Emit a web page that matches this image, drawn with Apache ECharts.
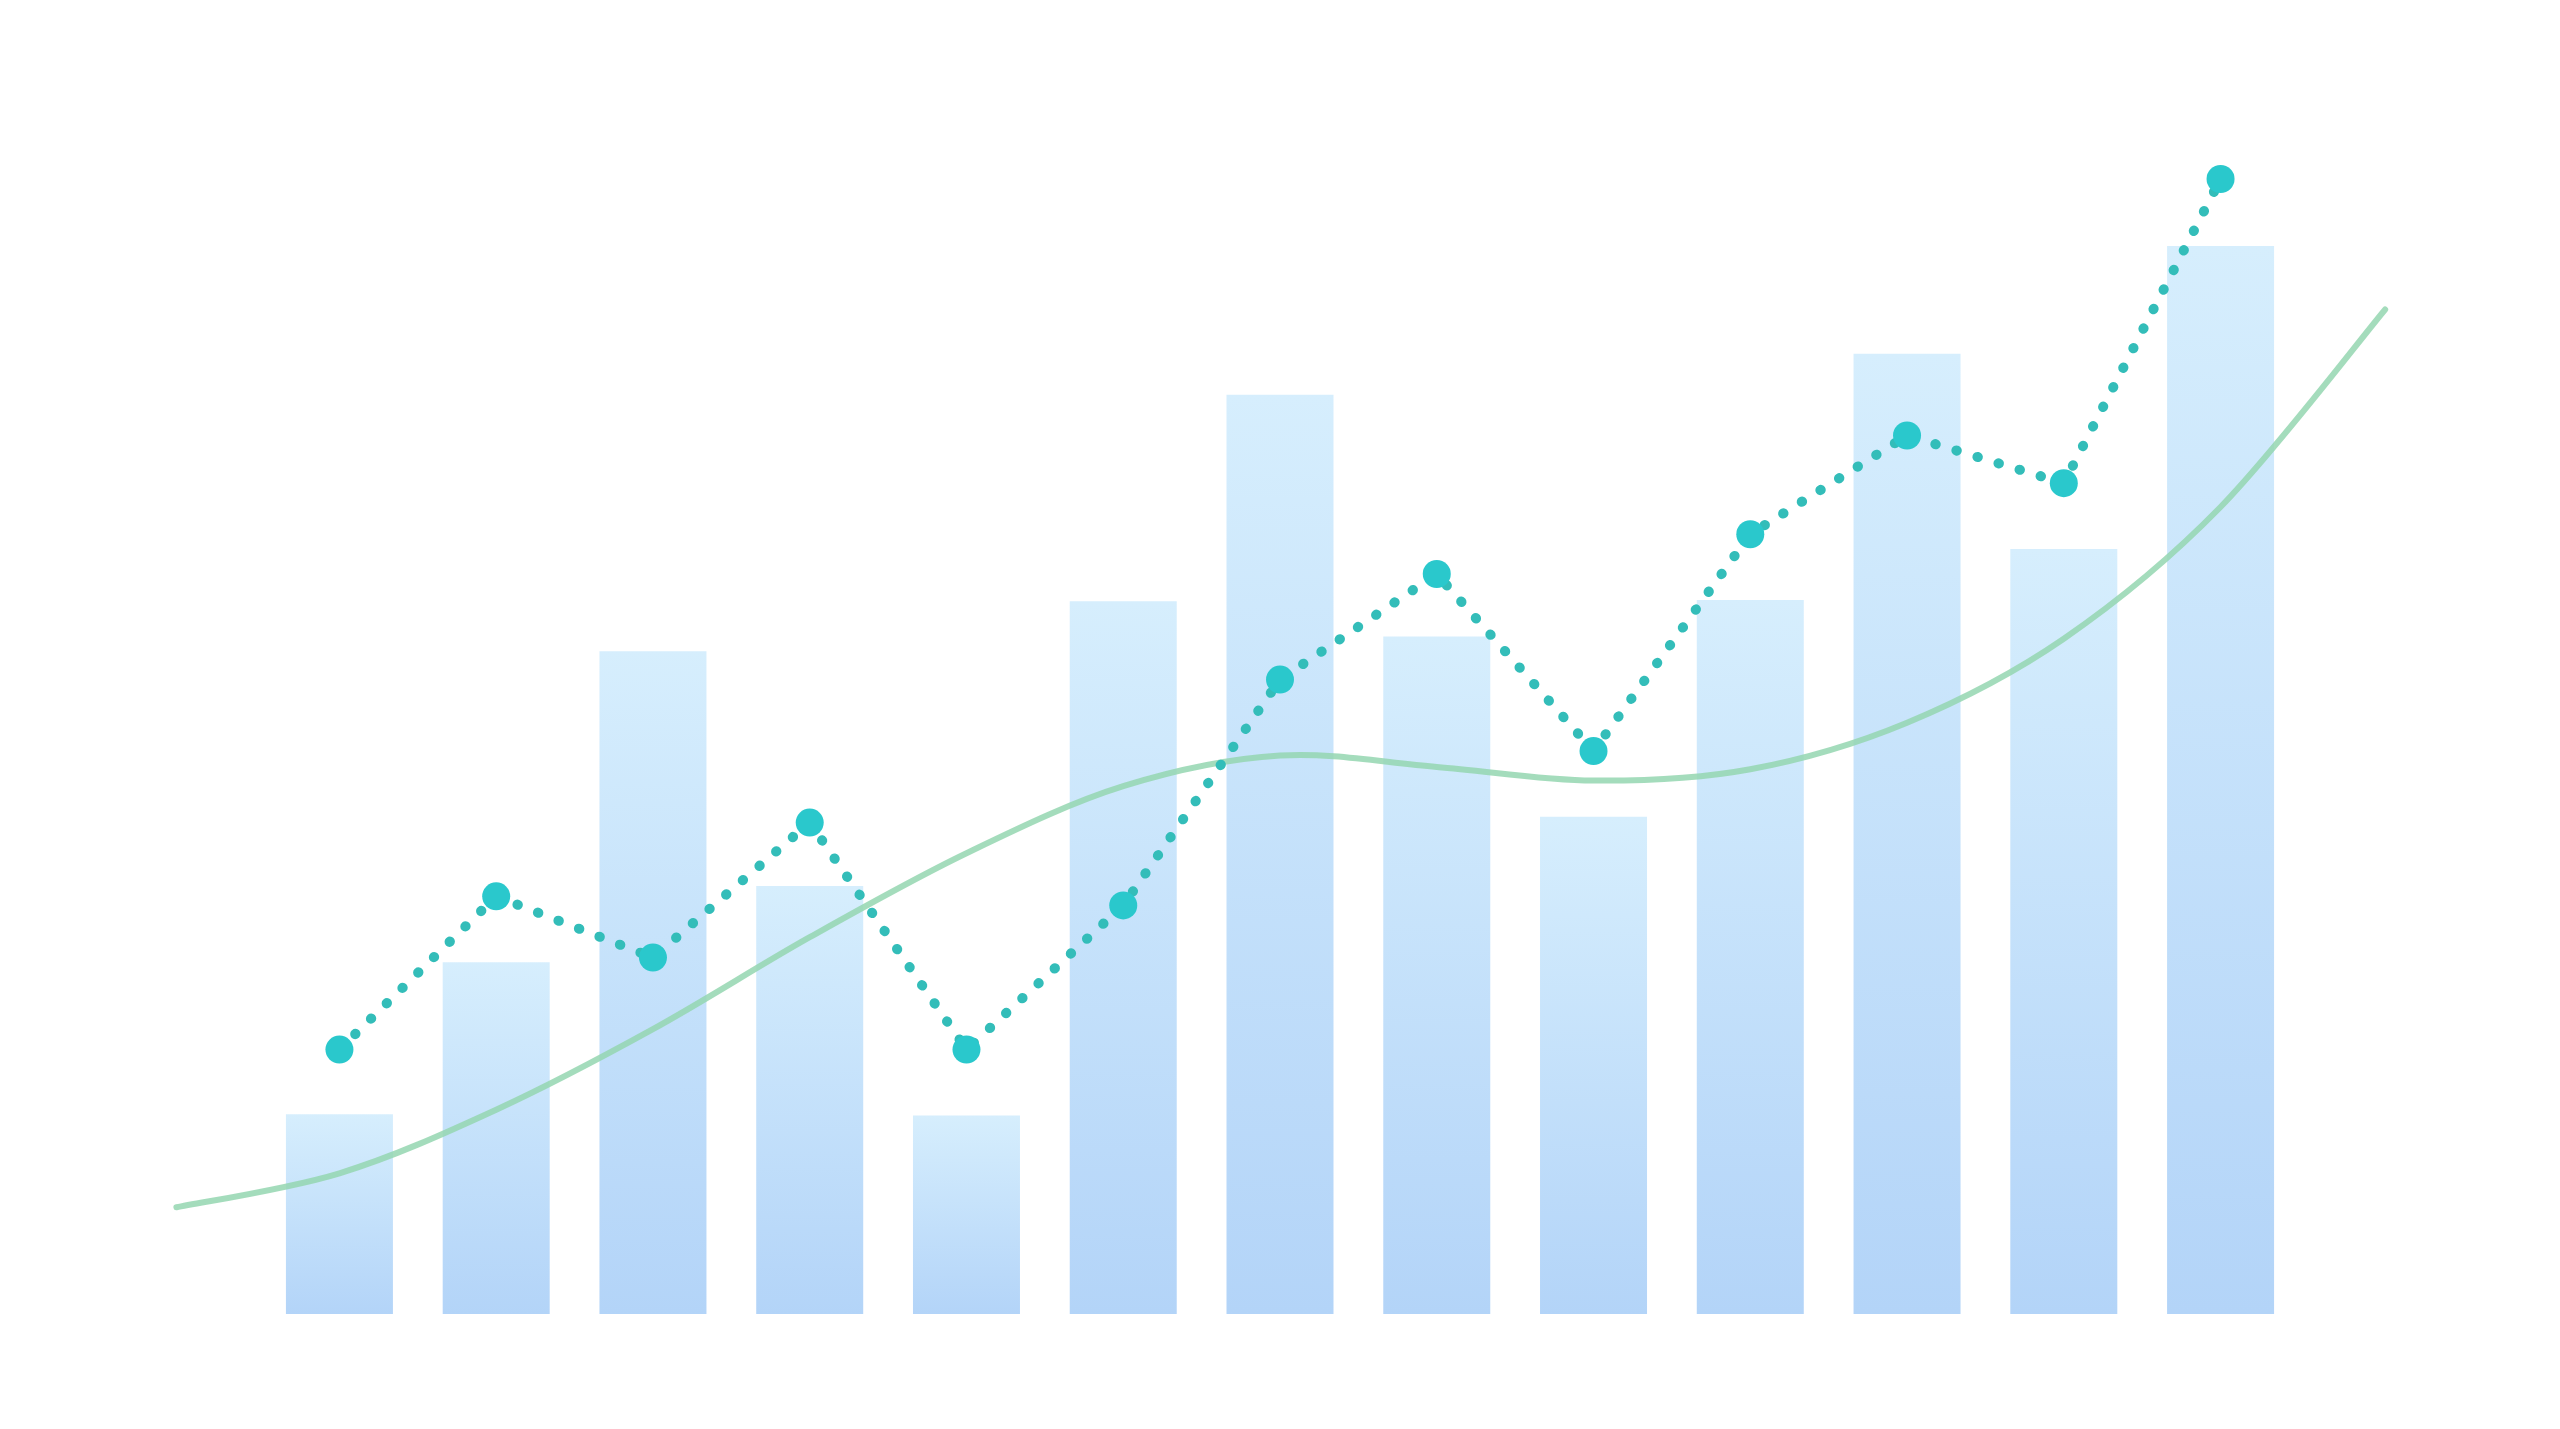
<!DOCTYPE html>
<html>
<head>
<meta charset="utf-8">
<script src="https://cdn.jsdelivr.net/npm/echarts@6/dist/echarts.min.js"></script>
<style>
html,body{margin:0;padding:0;background:#ffffff;}
#chart{width:2560px;height:1429px;}
</style>
</head>
<body>
<div id="chart"></div>
<script>
// ---- data ----
const categories = ['1','2','3','4','5','6','7','8','9','10','11','12','13'];
const barValues  = [17.6, 31.0, 58.4, 37.7, 17.5, 62.8, 81.0, 59.7, 43.8, 62.9, 84.6, 67.4, 94.1];
const lineValues = [23.3, 36.8, 31.4, 43.3, 23.3, 36.0, 55.9, 65.2, 49.6, 68.7, 77.4, 73.2, 100.0];
// trend curve: x positions in category-index units (0 = first bar), y values
const trendX = [-1.04, 0, 1, 2, 3, 4, 5, 6, 7, 8, 9, 10, 11, 12, 13.05];
const trendY = [9.4, 12.4, 18.0, 25.1, 33.2, 40.6, 46.5, 49.2, 48.2, 47.0, 48.0, 52.1, 59.5, 71.1, 88.5];

const chart = echarts.init(document.getElementById('chart'), null, {renderer: 'canvas'});
const barData = categories.map((c, i) => ({name: c, value: [i, barValues[i]]}));
const lineData = categories.map((c, i) => ({name: c, value: [i, lineValues[i]]}));
const trendData = trendX.map((x, i) => [x, trendY[i]]);

// smooth curve through the trend points (Catmull-Rom -> cubic Bezier), positioned by the axes
function renderTrend(params, api) {
  if (params.dataIndex !== 0) return null;
  const p = trendData.map(d => api.coord(d));
  const n = p.length;
  let d = 'M' + p[0][0] + ',' + p[0][1];
  for (let i = 0; i < n - 1; i++) {
    const p0 = p[Math.max(i - 1, 0)], p1 = p[i], p2 = p[i + 1], p3 = p[Math.min(i + 2, n - 1)];
    const c1x = p1[0] + (p2[0] - p0[0]) / 6, c1y = p1[1] + (p2[1] - p0[1]) / 6;
    const c2x = p2[0] - (p3[0] - p1[0]) / 6, c2y = p2[1] - (p3[1] - p1[1]) / 6;
    d += ' C' + c1x + ',' + c1y + ' ' + c2x + ',' + c2y + ' ' + p2[0] + ',' + p2[1];
  }
  return {
    type: 'path',
    shape: {pathData: d},
    style: {fill: 'none', stroke: 'rgba(148,214,176,0.85)', lineWidth: 6, lineCap: 'round', lineJoin: 'round'}
  };
}

chart.setOption({
  backgroundColor: '#ffffff',
  animation: false,
  grid: {left: 167, right: 167, top: 179, bottom: 115, containLabel: false},
  xAxis: {type: 'value', min: -1.1, max: 13.1, show: false},
  yAxis: {type: 'value', min: 0, max: 100, show: false},
  series: [
    {
      type: 'bar',
      data: barData,
      barWidth: 107,
      z: 1,
      itemStyle: {
        color: new echarts.graphic.LinearGradient(0, 0, 0, 1, [
          {offset: 0, color: '#d6eefd'},
          {offset: 1, color: '#b3d4f8'}
        ])
      }
    },
    {
      type: 'custom',
      data: trendData,
      encode: {x: 0, y: 1},
      renderItem: renderTrend,
      clip: false,
      z: 2
    },
    {
      type: 'line',
      data: lineData,
      smooth: false,
      clip: false,
      symbol: 'circle',
      symbolSize: 28,
      z: 3,
      itemStyle: {color: '#2ac8cc', borderWidth: 0},
      lineStyle: {color: '#33bdb9', width: 10, type: [0.5, 21.5], cap: 'round'}
    }
  ]
});
</script>
</body>
</html>
